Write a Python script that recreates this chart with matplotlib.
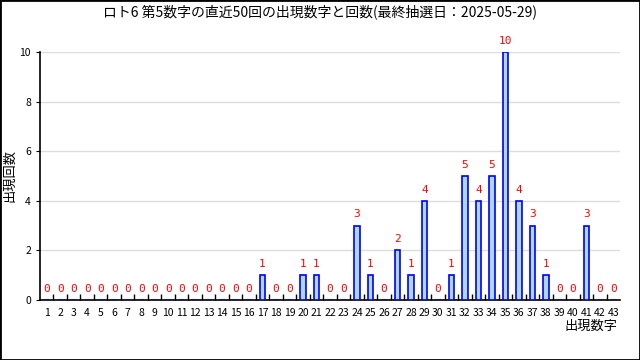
import matplotlib.pyplot as plt
from matplotlib.patches import Rectangle

plt.rcParams['font.family'] = ['Noto Sans CJK JP', 'DejaVu Sans']

# 出現数字 1..43 and the count for each
numbers = list(range(1, 44))
counts = [0, 0, 0, 0, 0, 0, 0, 0, 0, 0, 0, 0, 0, 0, 0, 0,
          1, 0, 0, 1, 1, 0, 0, 3, 1, 0, 2, 1, 4, 0, 1, 5,
          4, 5, 10, 4, 3, 1, 0, 0, 3, 0, 0]
title = 'ロト6 第5数字の直近50回の出現数字と回数(最終抽選日：2025-05-29)'

fig = plt.figure(figsize=(6.4, 3.6), dpi=100)
ax = fig.add_axes([40 / 640, 60 / 360, 580 / 640, 248 / 360])

ax.bar(numbers, counts, width=0.4, color='#add8e6', edgecolor='blue', linewidth=1.2, zorder=3)

# value labels
for n, c in zip(numbers, counts):
    ax.text(n, c + 0.25, str(c), ha='center', va='bottom', color='red', fontsize=8,
            family=['DejaVu Sans Mono'])

ax.set_xlim(0.5, 43.5)
ax.set_ylim(0, 10)
ax.set_yticks([0, 2, 4, 6, 8, 10])
ax.set_xticks(numbers)
ax.set_xticks([n + 0.5 for n in numbers[:-1]], minor=True)
ax.tick_params(axis='x', which='major', length=0, labelsize=7.5, pad=6)
ax.tick_params(axis='x', which='minor', direction='in', length=4, width=1)
ax.tick_params(axis='y', direction='out', length=3, labelsize=7.5)
ax.grid(axis='y', color='#dddddd', linewidth=1, zorder=0)
ax.spines['top'].set_visible(False)
ax.spines['right'].set_visible(False)
ax.spines['left'].set_linewidth(1.2)
ax.spines['bottom'].set_linewidth(1.2)

fig.text(10 / 640, 1 - 176 / 360, '出現回数', rotation=90, ha='center', va='center', fontsize=9.5)
fig.text(618 / 640, 1 - 326 / 360, '出現数字', ha='right', va='center', fontsize=9.5)
fig.text(0.5, 1 - 12 / 360, title, ha='center', va='center', fontsize=10)

# outer border
fig.patches.append(Rectangle((0, 0), 1, 1, transform=fig.transFigure, fill=False,
                             edgecolor='black', linewidth=2))

fig.savefig('out.png', dpi=100)
